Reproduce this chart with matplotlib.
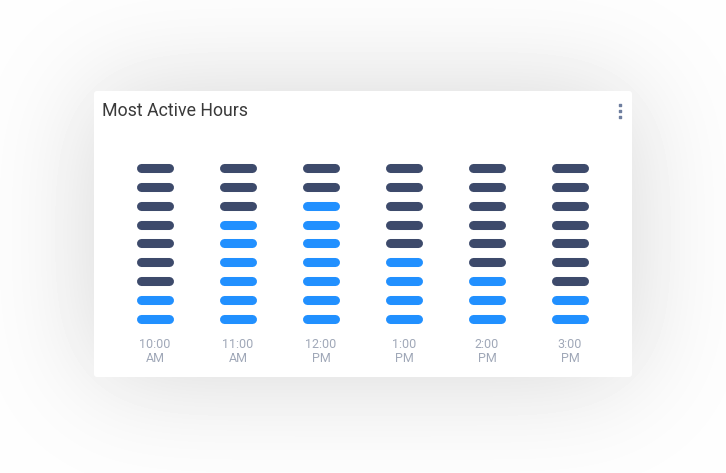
#!/usr/bin/env python3
"""Most Active Hours card: pill columns, blue = active levels."""
import math

import numpy as np
import matplotlib
matplotlib.use("Agg")
import matplotlib.pyplot as plt  # noqa: E402
from matplotlib.patches import FancyBboxPatch  # noqa: E402

# data
hours = ["10:00\nAM", "11:00\nAM", "12:00\nPM", "1:00\nPM", "2:00\nPM", "3:00\nPM"]
active = [2, 6, 7, 4, 3, 2]   # blue pills counted from the bottom
n_levels = 9

DARK = "#3d4a6b"
BLUE = "#2190ff"
LABEL = "#a0a8b8"

W, H = 726, 473
fig = plt.figure(figsize=(W / 100, H / 100), dpi=100)
fig.patch.set_facecolor("white")

# background layer: soft shadow + white card
bg = fig.add_axes([0, 0, 1, 1])
bg.set_xlim(0, W)
bg.set_ylim(H, 0)
bg.axis("off")

x0, y0, x1, y1 = 94, 91, 632, 377
sigma, off = 55, 0
erf = np.vectorize(math.erf)
xs = np.arange(W) + 0.5
ys = np.arange(H) + 0.5
k = sigma * math.sqrt(2)
fx = 0.5 * (erf((xs - x0) / k) - erf((xs - x1) / k))
fy = 0.5 * (erf((ys - y0 - off) / k) - erf((ys - y1 - off) / k))
shade = 0.995 - 0.16 * np.outer(fy, fx)
bg.imshow(shade, cmap="gray", vmin=0, vmax=1, extent=[0, W, H, 0], interpolation="bilinear")

bg.add_patch(FancyBboxPatch((x0, y0), x1 - x0, y1 - y0,
                            boxstyle="round,pad=0,rounding_size=3",
                            fc="white", ec="none"))
bg.set_xlim(0, W)
bg.set_ylim(H, 0)

bg.text(102, 110.5, "Most Active Hours", va="center", ha="left",
        fontsize=12.8, family="Roboto", color="#3a3a3a")
bg.scatter([620, 620, 620], [105, 111, 117], s=4, marker="s", color="#6f7f9f", zorder=3)

# pill grid
ax = fig.add_axes([113.5 / W, (H - 328.4) / H, 498 / W, 169.9 / H])
ax.set_xlim(-0.5, len(hours) - 0.5)
ax.set_ylim(-0.5, n_levels - 0.5)
ax.axis("off")

half = 14 / 83
for i, (label, n_on) in enumerate(zip(hours, active)):
    for j in range(n_levels):
        c = BLUE if j < n_on else DARK
        ax.plot([i - half, i + half], [j, j], color=c, lw=6.5,
                solid_capstyle="round")
    ax.text(i, -1.72, label, ha="center", va="center", fontsize=9,
            family="Roboto", color=LABEL, linespacing=1.05, clip_on=False)

fig.savefig("out.png", dpi=100)
